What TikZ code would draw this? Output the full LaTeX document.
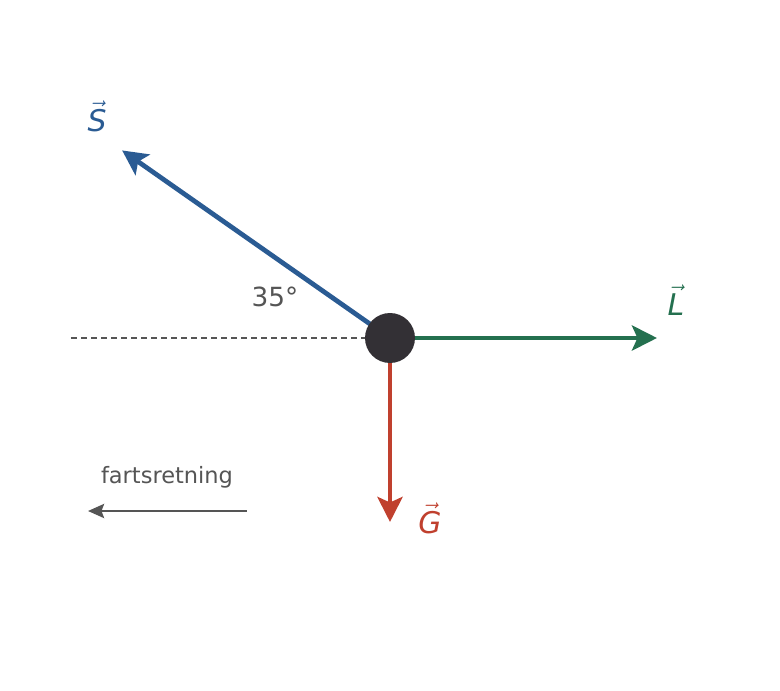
\documentclass[tikz,border=0pt]{standalone}
\usepackage{fontspec}
\setmainfont{DejaVu Sans}
\usepackage{tikz}
\usetikzlibrary{arrows.meta,positioning}
\definecolor{sblue}{HTML}{2A5B93}
\definecolor{lgreen}{HTML}{24704F}
\definecolor{gred}{HTML}{C0402E}
\definecolor{body}{HTML}{333035}
\definecolor{txtgray}{HTML}{555555}
\newcommand{\fvec}[1]{$\vec{\textit{#1}}$}

\begin{document}
\begin{tikzpicture}[x=0.02cm,y=0.02cm,
		force/.style={-{Stealth[length=0.5cm,width=0.5cm,inset=0.11cm]},line width=2.7pt},
		lbl/.style={font=\fontsize{17}{20}\selectfont}]
		\useasboundingbox[fill=white] (-390,-352) rectangle (390,338);
		
		\coordinate (c) at (0,0);
		\coordinate (stip) at (145:327);
		\coordinate (ltip) at (267,0);
		\coordinate (gtip) at (0,-184);
		\coordinate (hline) at (-319,0);
		\coordinate (vstart) at (-143,-173);
		\coordinate (vend) at (-302,-173);
		
		\draw[txtgray,line width=0.85pt,dash pattern=on 3.4pt off 2.3pt] (hline) -- (c);
		\draw[force,sblue] (c) -- (stip);
		\draw[force,lgreen] (c) -- (ltip);
		\draw[force,gred] (c) -- (gtip);
		\node[circle,fill=body,minimum size=1cm,inner sep=0pt] (obj) at (c) {};
		
		\node[lbl,text=sblue] (slbl) at (-293,222) {\fvec{S}};
		\node[lbl,text=lgreen] (llbl) at (286,38) {\fvec{L}};
		\node[lbl,text=gred] (glbl) at (40,-180) {\fvec{G}};
		\node[text=txtgray,font=\fontsize{15}{18}\selectfont] (ang) at (-115,41) {35°};
		
		\draw[-{Stealth[length=0.32cm,width=0.28cm,inset=0.05cm]},txtgray,line width=1.5pt] (vstart) -- (vend);
		\node[text=txtgray,font=\fontsize{12.8}{15}\selectfont] (fart) at (-223,-139) {fartsretning};
\end{tikzpicture}
\end{document}
